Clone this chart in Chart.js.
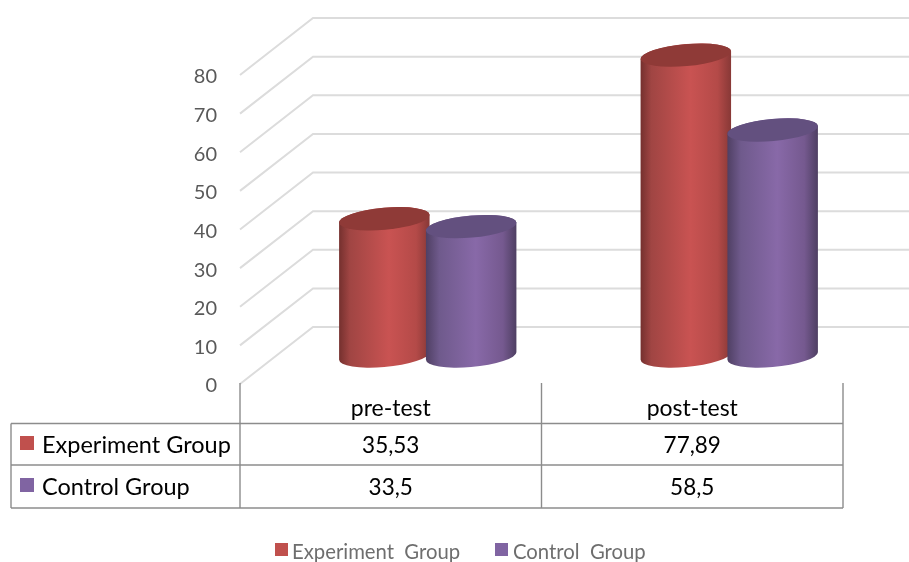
<!DOCTYPE html>
<html>
<head>
<meta charset="utf-8">
<style>
  body { margin: 0; background: #fff; }
  canvas { display: block; }
</style>
<script src="https://cdn.jsdelivr.net/npm/chart.js@4/dist/chart.umd.min.js"></script>
</head>
<body>
<canvas id="chart" width="909" height="562"></canvas>
<script>
// Data
const categories = ['pre-test', 'post-test'];
const experimentValues = [35.53, 77.89];
const controlValues = [33.5, 58.5];
const seriesNames = ['Experiment Group', 'Control Group'];
const legendNames = ['Experiment  Group', 'Control  Group'];
const yTicks = [0, 10, 20, 30, 40, 50, 60, 70, 80];

// Colours
const redStops = [[0, '#74302e'], [0.12, '#a04543'], [0.55, '#c95352'], [0.85, '#b44a48'], [1, '#873836']];
const purpleStops = [[0, '#4f3f63'], [0.15, '#6f5a8c'], [0.55, '#8869a8'], [0.85, '#75598f'], [1, '#4e3f62']];
const topColors = ['#8f3a37', '#63507f'];
const stops = [redStops, purpleStops];

const FONT = 'Lato, "Open Sans", sans-serif';
// How far the back wall sits from the front of the axis, the bars stand half way
const depthX = 73, depthY = -57;
const barX = 37, barY = -28;
const ellipseRy = 11, ellipseTilt = -0.09;

function formatValue(v) {
    return String(v).replace('.', ',');
}

function drawWalls(chart) {
    const ctx = chart.ctx, y = chart.scales.y, left = chart.chartArea.left;
    ctx.save();
    ctx.strokeStyle = '#dcdcdc';
    ctx.lineWidth = 2;
    yTicks.forEach(function(t) {
        const py = y.getPixelForValue(t);
        ctx.beginPath();
        ctx.moveTo(left, py);
        ctx.lineTo(left + depthX, py + depthY);
        ctx.lineTo(chart.width, py + depthY);
        ctx.stroke();
    });
    ctx.restore();
}

function drawTable(chart) {
    const ctx = chart.ctx, x = chart.scales.x, area = chart.chartArea;
    const tableLeft = 11, rows = [423.5, 465, 508], top = 383;
    const edges = [area.left, (x.getPixelForValue(0) + x.getPixelForValue(1)) / 2, area.right];

    ctx.save();
    ctx.strokeStyle = '#8c8c8c';
    ctx.lineWidth = 1.4;
    rows.forEach(function(r) {
        ctx.beginPath();
        ctx.moveTo(tableLeft, r);
        ctx.lineTo(area.right, r);
        ctx.stroke();
    });
    edges.forEach(function(e) {
        ctx.beginPath();
        ctx.moveTo(e, top);
        ctx.lineTo(e, rows[2]);
        ctx.stroke();
    });
    ctx.beginPath();
    ctx.moveTo(tableLeft, rows[0]);
    ctx.lineTo(tableLeft, rows[2]);
    ctx.stroke();

    ctx.textBaseline = 'middle';
    [experimentValues, controlValues].forEach(function(values, s) {
        const ty = s === 0 ? 445 : 487;
        ctx.fillStyle = chart.data.datasets[s].backgroundColor;
        ctx.fillRect(20, ty - 9, 14, 14);
        ctx.fillStyle = '#000';
        ctx.font = '23.5px ' + FONT;
        ctx.textAlign = 'left';
        ctx.fillText(seriesNames[s], 42, ty);
        ctx.font = '22.5px ' + FONT;
        ctx.textAlign = 'center';
        values.forEach(function(v, i) {
            ctx.fillText(formatValue(v), x.getPixelForValue(i), ty + 1);
        });
    });
    ctx.restore();
}

function drawLegend(chart) {
    const ctx = chart.ctx;
    const boxX = [275, 495], textX = [292, 513];
    ctx.save();
    ctx.font = '20.3px ' + FONT;
    ctx.textAlign = 'left';
    ctx.textBaseline = 'middle';
    legendNames.forEach(function(name, s) {
        ctx.fillStyle = chart.data.datasets[s].backgroundColor;
        ctx.fillRect(boxX[s], 543, 13, 13);
        ctx.fillStyle = '#6e6e6e';
        ctx.fillText(name, textX[s], 552);
    });
    ctx.restore();
}

function drawCylinder(ctx, bar, s) {
    const rx = bar.width / 2, cx = bar.x + barX;
    const topY = bar.y + barY, baseY = bar.base + barY;
    const t0 = Math.atan2(-ellipseRy * Math.sin(ellipseTilt), rx * Math.cos(ellipseTilt));

    const grad = ctx.createLinearGradient(cx - rx, 0, cx + rx, 0);
    stops[s].forEach(function(st) { grad.addColorStop(st[0], st[1]); });

    ctx.beginPath();
    ctx.ellipse(cx, baseY, rx, ellipseRy, ellipseTilt, t0, t0 + Math.PI);
    ctx.ellipse(cx, topY, rx, ellipseRy, ellipseTilt, t0 + Math.PI, t0 + 2 * Math.PI);
    ctx.closePath();
    ctx.fillStyle = grad;
    ctx.fill();

    ctx.beginPath();
    ctx.ellipse(cx, topY, rx, ellipseRy, ellipseTilt, 0, 2 * Math.PI);
    ctx.fillStyle = topColors[s];
    ctx.fill();
}

// Walls, table, legend and cylinders go in place of the flat bars
const cylinderPlugin = {
    id: 'cylinders',
    beforeDatasetsDraw(chart) {
        drawWalls(chart);
        drawTable(chart);
        drawLegend(chart);
        chart.data.datasets.forEach(function(ds, s) {
            chart.getDatasetMeta(s).data.forEach(function(bar) {
                drawCylinder(chart.ctx, bar, s);
            });
        });
        return false;
    }
};

new Chart(document.getElementById('chart').getContext('2d'), {
    type: 'bar',
    data: {
        labels: categories,
        datasets: [
            { label: seriesNames[0], data: experimentValues, backgroundColor: '#c0504d', categoryPercentage: 0.576, barPercentage: 1.046 },
            { label: seriesNames[1], data: controlValues, backgroundColor: '#8064a2', categoryPercentage: 0.576, barPercentage: 1.046 }
        ]
    },
    options: {
        responsive: false,
        animation: false,
        layout: { padding: { left: 0, right: 66, top: 75, bottom: 0 } },
        scales: {
            x: {
                grid: { display: false },
                border: { display: false },
                ticks: { color: '#000', font: { family: FONT, size: 23 }, padding: 3, maxRotation: 0 },
                afterFit(scale) { scale.height = 562 - 384; }
            },
            y: {
                min: 0,
                max: 80,
                afterBuildTicks(scale) { scale.ticks = yTicks.map(function(v) { return { value: v }; }); },
                grid: { display: false },
                border: { display: false },
                ticks: { color: '#595959', font: { family: FONT, size: 20 }, padding: 15, labelOffset: 2 },
                afterFit(scale) { scale.width = 240; }
            }
        },
        plugins: {
            legend: { display: false },
            tooltip: { enabled: false }
        }
    },
    plugins: [cylinderPlugin]
});
</script>
</body>
</html>
